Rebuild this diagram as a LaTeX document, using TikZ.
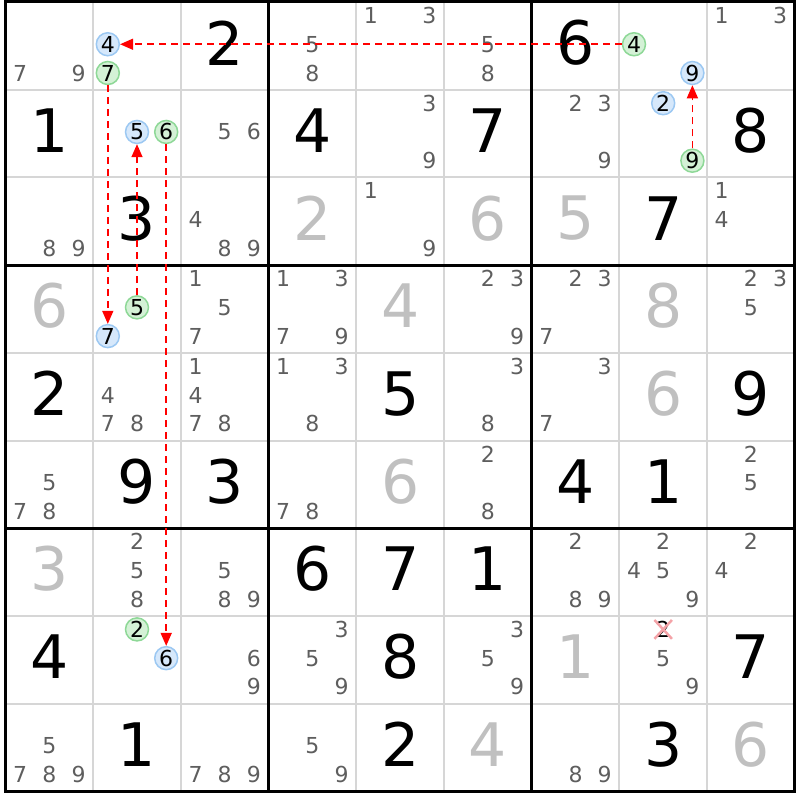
\documentclass[tikz,border=0pt]{standalone}
\usepackage{fontspec}
\setmainfont{DejaVu Sans}
\usetikzlibrary{arrows.meta}
\usetikzlibrary{shapes.misc}
\definecolor{candgray}{HTML}{5E5E5E}
\definecolor{solvedgray}{HTML}{C0C0C0}
\definecolor{linegray}{HTML}{D6D6D6}
\definecolor{bluefill}{HTML}{D6E8FB}
\definecolor{blueedge}{HTML}{9CC8F2}
\definecolor{greenfill}{HTML}{D4F1D6}
\definecolor{greenedge}{HTML}{8ED897}
\definecolor{xpink}{HTML}{F4A3A8}
\tikzset{
  given/.style={inner sep=0pt, font=\fontsize{60}{60}\selectfont, text=black},
  cand/.style={inner sep=0pt, font=\fontsize{22}{22}\selectfont, text=candgray},
  ringb/.style={cand, circle, minimum size=23pt, line width=1.5pt, draw=blueedge, fill=bluefill, text=black},
  ringg/.style={cand, circle, minimum size=23pt, line width=1.5pt, draw=greenedge, fill=greenfill, text=black},
  link/.style={red, line width=1.5pt, dash pattern=on 7pt off 5pt, -{Triangle[length=13pt,width=11pt]}},
  thinline/.style={linegray, line width=2pt},
  thickline/.style={black, line width=3pt}
}
\newcommand{\given}[3]{\node[given] (n#1#2) at ({5.5+(#2-0.5)*87.7},{2+(#1-0.5)*87.7-3}) {#3};}
\newcommand{\solved}[3]{\node[given, text=solvedgray] (n#1#2) at ({5.5+(#2-0.5)*87.7},{2+(#1-0.5)*87.7-3}) {#3};}
\newcommand{\cands}[3]{\foreach \d in {#3} {\node[cand] (c#1#2\d) at ({5.5+(#2-1)*87.7+14.6+mod(\d-1,3)*29.2},{2+(#1-1)*87.7+13.5+div(\d-1,3)*28.75}) {\d};}}
\newcommand{\candb}[3]{\node[ringb] (c#1#2#3) at ({5.5+(#2-1)*87.7+14.6+mod(#3-1,3)*29.2},{2+(#1-1)*87.7+13.5+div(#3-1,3)*28.75}) {#3};}
\newcommand{\candg}[3]{\node[ringg] (c#1#2#3) at ({5.5+(#2-1)*87.7+14.6+mod(#3-1,3)*29.2},{2+(#1-1)*87.7+13.5+div(#3-1,3)*28.75}) {#3};}
\newcommand{\candx}[3]{\node[cand, cross out, draw=xpink, line width=2.5pt, minimum width=15pt, minimum height=13pt, text=black] (c#1#2#3) at ({5.5+(#2-1)*87.7+14.6+mod(#3-1,3)*29.2},{2+(#1-1)*87.7+13.5+div(#3-1,3)*28.75}) {#3};}

\begin{document}
\begin{tikzpicture}[x=1pt, y=-1pt]
            \useasboundingbox (0,0) rectangle (800,800);
            % grid
            \foreach \i in {1,2,4,5,7,8} {
              \draw[thinline] ({5.5+\i*87.7},2) -- ({5.5+\i*87.7},791.3);
              \draw[thinline] (5.5,{2+\i*87.7}) -- (794.8,{2+\i*87.7});
            }
            \foreach \i in {3,6} {
              \draw[thickline] ({5.5+\i*87.7},2) -- ({5.5+\i*87.7},791.3);
              \draw[thickline] (5.5,{2+\i*87.7}) -- (794.8,{2+\i*87.7});
            }
            \draw[thickline] (5.5,2) rectangle (794.8,791.3);
            % row 1
            \cands{1}{1}{7,9}
            \candb{1}{2}{4}
            \candg{1}{2}{7}
            \given{1}{3}{2}
            \cands{1}{4}{5,8}
            \cands{1}{5}{1,3}
            \cands{1}{6}{5,8}
            \given{1}{7}{6}
            \candg{1}{8}{4}
            \candb{1}{8}{9}
            \cands{1}{9}{1,3}
            % row 2
            \given{2}{1}{1}
            \candb{2}{2}{5}
            \candg{2}{2}{6}
            \cands{2}{3}{5,6}
            \given{2}{4}{4}
            \cands{2}{5}{3,9}
            \given{2}{6}{7}
            \cands{2}{7}{2,3,9}
            \candb{2}{8}{2}
            \candg{2}{8}{9}
            \given{2}{9}{8}
            % row 3
            \cands{3}{1}{8,9}
            \given{3}{2}{3}
            \cands{3}{3}{4,8,9}
            \solved{3}{4}{2}
            \cands{3}{5}{1,9}
            \solved{3}{6}{6}
            \solved{3}{7}{5}
            \given{3}{8}{7}
            \cands{3}{9}{1,4}
            % row 4
            \solved{4}{1}{6}
            \candg{4}{2}{5}
            \candb{4}{2}{7}
            \cands{4}{3}{1,5,7}
            \cands{4}{4}{1,3,7,9}
            \solved{4}{5}{4}
            \cands{4}{6}{2,3,9}
            \cands{4}{7}{2,3,7}
            \solved{4}{8}{8}
            \cands{4}{9}{2,3,5}
            % row 5
            \given{5}{1}{2}
            \cands{5}{2}{4,7,8}
            \cands{5}{3}{1,4,7,8}
            \cands{5}{4}{1,3,8}
            \given{5}{5}{5}
            \cands{5}{6}{3,8}
            \cands{5}{7}{3,7}
            \solved{5}{8}{6}
            \given{5}{9}{9}
            % row 6
            \cands{6}{1}{5,7,8}
            \given{6}{2}{9}
            \given{6}{3}{3}
            \cands{6}{4}{7,8}
            \solved{6}{5}{6}
            \cands{6}{6}{2,8}
            \given{6}{7}{4}
            \given{6}{8}{1}
            \cands{6}{9}{2,5}
            % row 7
            \solved{7}{1}{3}
            \cands{7}{2}{2,5,8}
            \cands{7}{3}{5,8,9}
            \given{7}{4}{6}
            \given{7}{5}{7}
            \given{7}{6}{1}
            \cands{7}{7}{2,8,9}
            \cands{7}{8}{2,4,5,9}
            \cands{7}{9}{2,4}
            % row 8
            \given{8}{1}{4}
            \candg{8}{2}{2}
            \candb{8}{2}{6}
            \cands{8}{3}{6,9}
            \cands{8}{4}{3,5,9}
            \given{8}{5}{8}
            \cands{8}{6}{3,5,9}
            \solved{8}{7}{1}
            \candx{8}{8}{2}
            \cands{8}{8}{5,9}
            \given{8}{9}{7}
            % row 9
            \cands{9}{1}{5,7,8,9}
            \given{9}{2}{1}
            \cands{9}{3}{7,8,9}
            \cands{9}{4}{5,9}
            \given{9}{5}{2}
            \solved{9}{6}{4}
            \cands{9}{7}{8,9}
            \given{9}{8}{3}
            \solved{9}{9}{6}
            % chain
            \draw[link] (c184) -- (c124);
            \draw[link] (c127) -- (c427);
            \draw[link] (c425) -- (c225);
            \draw[link] (c226) -- (c826);
            \draw[link] (c289) -- (c189);
        \end{tikzpicture}
\end{document}
